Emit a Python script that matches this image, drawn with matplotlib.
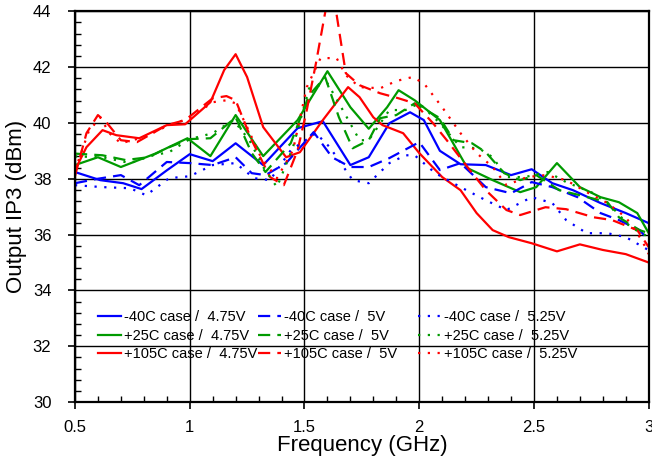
import matplotlib
matplotlib.use("Agg")
import matplotlib.pyplot as plt
from matplotlib.ticker import MultipleLocator

# -40C curves
f_m40_475 = [0.5, 0.61, 0.71, 0.79, 0.9, 1.0, 1.1, 1.2, 1.32, 1.47, 1.58, 1.7, 1.78, 1.87, 1.96, 2.02, 2.09, 2.18, 2.29, 2.4, 2.49, 2.58, 2.67, 2.79, 2.9, 3.0]
v_m40_475 = [38.24, 37.95, 37.84, 37.63, 38.3, 38.88, 38.63, 39.27, 38.49, 39.81, 40.06, 38.49, 38.77, 39.99, 40.38, 40.1, 39.0, 38.52, 38.49, 38.13, 38.34, 37.84, 37.59, 37.13, 36.77, 36.41]

f_m40_5 = [0.5, 0.6, 0.7, 0.78, 0.9, 1.0, 1.1, 1.2, 1.27, 1.33, 1.42, 1.54, 1.62, 1.7, 1.78, 1.87, 2.0, 2.09, 2.18, 2.29, 2.4, 2.49, 2.58, 2.69, 2.79, 2.87, 2.96, 3.0]
v_m40_5 = [37.84, 38.0, 38.13, 37.77, 38.6, 38.56, 38.49, 38.77, 38.2, 38.13, 38.56, 39.67, 38.77, 38.42, 38.42, 38.74, 39.31, 38.31, 38.56, 37.7, 37.48, 37.88, 37.7, 37.34, 36.77, 36.52, 36.16, 35.8]

f_m40_525 = [0.5, 0.62, 0.74, 0.81, 0.91, 1.0, 1.1, 1.2, 1.28, 1.35, 1.44, 1.55, 1.61, 1.71, 1.78, 1.87, 1.94, 1.98, 2.07, 2.18, 2.29, 2.38, 2.49, 2.58, 2.64, 2.73, 2.82, 2.9, 3.0]
v_m40_525 = [37.77, 37.7, 37.66, 37.41, 38.02, 38.09, 38.49, 38.56, 38.02, 37.95, 39.02, 39.63, 39.13, 37.95, 37.84, 38.56, 38.84, 38.84, 38.2, 37.7, 37.23, 36.88, 37.34, 37.13, 36.52, 36.05, 36.05, 35.91, 35.44]

# +25C curves
f_p25_475 = [0.5, 0.6, 0.7, 0.85, 0.99, 1.09, 1.2, 1.32, 1.47, 1.6, 1.7, 1.78, 1.86, 1.91, 1.98, 2.09, 2.21, 2.32, 2.44, 2.51, 2.6, 2.7, 2.79, 2.87, 2.95, 3.0]
v_p25_475 = [38.49, 38.77, 38.42, 38.9, 39.45, 38.81, 40.28, 38.81, 40.1, 41.85, 40.56, 39.79, 40.56, 41.17, 40.81, 40.1, 38.38, 37.95, 37.52, 37.7, 38.56, 37.7, 37.34, 37.16, 36.77, 36.05]

f_p25_5 = [0.5, 0.62, 0.72, 0.82, 0.91, 1.0, 1.09, 1.16, 1.2, 1.27, 1.33, 1.44, 1.52, 1.59, 1.65, 1.71, 1.78, 1.83, 1.9, 1.98, 2.09, 2.15, 2.23, 2.29, 2.37, 2.44, 2.51, 2.61, 2.7, 2.82, 2.87, 2.96, 3.0]
v_p25_5 = [38.9, 38.84, 38.67, 38.77, 39.13, 39.42, 39.45, 39.92, 40.2, 38.92, 38.24, 39.27, 40.99, 41.64, 40.2, 39.09, 39.38, 40.17, 40.28, 40.7, 40.17, 39.38, 39.27, 38.95, 38.2, 37.95, 38.13, 37.59, 37.41, 37.16, 36.62, 36.16, 36.05]

f_p25_525 = [0.5, 0.62, 0.74, 0.84, 0.91, 1.0, 1.1, 1.19, 1.26, 1.32, 1.38, 1.45, 1.52, 1.6, 1.66, 1.74, 1.78, 1.87, 1.94, 2.0, 2.09, 2.18, 2.26, 2.32, 2.38, 2.46, 2.56, 2.64, 2.76, 2.84, 2.92, 3.0]
v_p25_525 = [38.8, 38.77, 38.56, 38.84, 38.95, 39.42, 39.63, 40.1, 39.38, 38.42, 37.7, 39.13, 41.24, 41.42, 40.56, 39.38, 39.38, 40.46, 40.46, 40.7, 39.99, 39.13, 39.09, 38.77, 38.06, 38.06, 38.24, 37.88, 37.48, 36.98, 36.27, 35.91]

# +105C curves
f_p105_475 = [0.5, 0.55, 0.62, 0.68, 0.78, 0.9, 0.98, 1.09, 1.15, 1.2, 1.25, 1.32, 1.42, 1.48, 1.58, 1.69, 1.74, 1.8, 1.84, 1.93, 2.0, 2.1, 2.18, 2.25, 2.32, 2.39, 2.49, 2.6, 2.7, 2.8, 2.9, 3.0]
v_p105_475 = [38.31, 39.13, 39.74, 39.56, 39.45, 39.92, 39.95, 40.74, 41.89, 42.46, 41.64, 39.85, 38.77, 38.95, 40.1, 41.28, 40.92, 40.2, 39.92, 39.63, 38.92, 38.06, 37.59, 36.77, 36.16, 35.91, 35.69, 35.4, 35.65, 35.45, 35.3, 35.0]

f_p105_5 = [0.5, 0.55, 0.6, 0.64, 0.7, 0.77, 0.9, 0.98, 1.1, 1.16, 1.2, 1.27, 1.35, 1.41, 1.47, 1.51, 1.55, 1.6, 1.63, 1.68, 1.74, 1.83, 1.91, 1.98, 2.06, 2.12, 2.21, 2.29, 2.38, 2.44, 2.55, 2.64, 2.76, 2.84, 2.95, 3.0]
v_p105_5 = [38.1, 39.63, 40.28, 39.99, 39.38, 39.31, 39.92, 40.1, 40.88, 40.96, 40.81, 39.38, 38.06, 37.77, 39.02, 40.46, 42.14, 44.4, 44.4, 41.78, 41.35, 41.06, 40.88, 40.7, 39.99, 39.38, 38.42, 37.59, 36.88, 36.7, 36.98, 36.91, 36.62, 36.52, 36.16, 35.55]

f_p105_525 = [0.5, 0.56, 0.61, 0.65, 0.7, 0.8, 0.91, 1.0, 1.1, 1.16, 1.2, 1.25, 1.31, 1.38, 1.45, 1.51, 1.57, 1.64, 1.68, 1.74, 1.83, 1.9, 1.97, 2.02, 2.1, 2.18, 2.25, 2.32, 2.38, 2.47, 2.55, 2.64, 2.73, 2.82, 2.9, 2.97, 3.0]
v_p105_525 = [38.3, 39.7, 40.2, 39.63, 39.27, 39.49, 39.92, 40.17, 40.74, 40.81, 40.7, 39.85, 38.77, 38.02, 39.02, 41.28, 42.32, 42.32, 41.71, 41.28, 41.24, 41.5, 41.64, 41.42, 40.56, 39.63, 38.92, 38.42, 37.77, 38.06, 38.13, 37.95, 37.52, 37.13, 36.62, 35.8, 35.3]

labels = ["-40C case /  4.75V", "+25C case /  4.75V", "+105C case /  4.75V",
          "-40C case /  5V", "+25C case /  5V", "+105C case /  5V",
          "-40C case /  5.25V", "+25C case /  5.25V", "+105C case /  5.25V"]

blue = "#0000ff"
green = "#009a00"
red = "#ff0000"
dash = (0, (5.5, 3.2))
dot = (0, (1, 3.4))

series = [
    (f_m40_475, v_m40_475, blue, "-"),
    (f_p25_475, v_p25_475, green, "-"),
    (f_p105_475, v_p105_475, red, "-"),
    (f_m40_5, v_m40_5, blue, dash),
    (f_p25_5, v_p25_5, green, dash),
    (f_p105_5, v_p105_5, red, dash),
    (f_m40_525, v_m40_525, blue, dot),
    (f_p25_525, v_p25_525, green, dot),
    (f_p105_525, v_p105_525, red, dot),
]

plt.rcParams['font.family'] = ['Liberation Sans', 'DejaVu Sans']
fig = plt.figure(figsize=(6.52, 4.66), dpi=100)
ax = fig.add_axes([0.115, 0.137, 0.88, 0.839])

lines = []
for (xs, ys, c, ls), lab in zip(series, labels):
    ln, = ax.plot(xs, ys, color=c, linestyle=ls, linewidth=1.6, label=lab)
    lines.append(ln)

ax.set_xlim(0.5, 3)
ax.set_ylim(30, 44)
ax.set_xticks([0.5, 1, 1.5, 2, 2.5, 3])
ax.set_xticklabels(["0.5", "1", "1.5", "2", "2.5", "3"])
ax.set_yticks([30, 32, 34, 36, 38, 40, 42, 44])
ax.xaxis.set_minor_locator(MultipleLocator(0.1))
ax.yaxis.set_minor_locator(MultipleLocator(0.4))
ax.grid(True, which='major', color='black', linewidth=1.0)
ax.tick_params(which='major', direction='out', length=5, width=1.2, labelsize=12)
ax.tick_params(axis='x', which='major', pad=8)
ax.tick_params(axis='y', which='major', pad=12)
ax.tick_params(which='minor', direction='in', length=4, width=1)
for s in ax.spines.values():
    s.set_linewidth(1.6)

ax.set_xlabel("Frequency (GHz)", fontsize=16, labelpad=0)
ax.set_ylabel("Output IP3 (dBm)", fontsize=16)
ax.yaxis.set_label_coords(-0.084, 0.5)

# three legend columns placed separately
col_x = [0.03, 0.309, 0.588]
for i in range(3):
    leg = ax.legend(handles=lines[3 * i:3 * i + 3], loc='upper left',
                    bbox_to_anchor=(col_x[i], 0.25), frameon=False,
                    fontsize=10.5, handlelength=1.6, handletextpad=0.15,
                    labelspacing=0.3, borderaxespad=0)
    if i < 2:
        ax.add_artist(leg)

fig.savefig("out.png", dpi=100)
